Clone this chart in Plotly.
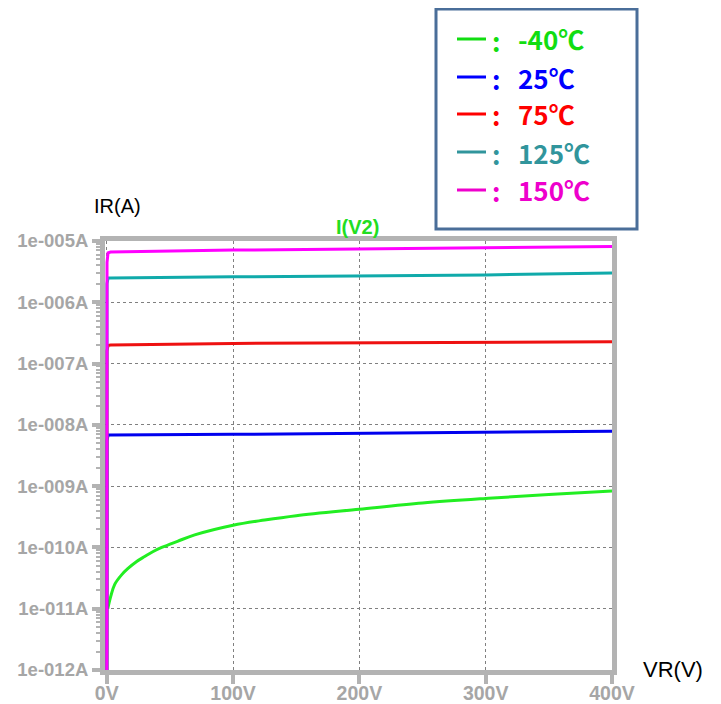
import plotly.graph_objects as go

# ── data ──────────────────────────────────────────────────────────────────────
v_m40 = [0.8, 3.2, 6.3, 11.9, 16.6, 23.7, 30, 36.4, 43.5, 56, 69.6,
         100, 125, 150, 200, 250, 300, 350, 400]
i_m40 = [1.0e-11, 1.6e-11, 2.5e-11, 3.6e-11, 4.5e-11, 5.9e-11, 7.1e-11,
         8.5e-11, 1.0e-10, 1.26e-10, 1.6e-10, 2.3e-10, 2.8e-10,
         3.3e-10, 4.2e-10, 5.3e-10, 6.3e-10, 7.3e-10, 8.3e-10]

v_flat = [0, 0.2, 1, 3, 100, 200, 300, 400]
i_25 = [1e-13, 5.5e-9, 6.8e-9, 6.8e-9, 7.0e-9, 7.3e-9, 7.5e-9, 7.9e-9]
i_75 = [1e-13, 1.6e-7, 1.97e-7, 2.0e-7, 2.13e-7, 2.18e-7, 2.22e-7, 2.26e-7]
i_125 = [1e-13, 2.0e-6, 2.5e-6, 2.5e-6, 2.6e-6, 2.7e-6, 2.8e-6, 3.0e-6]
i_150 = [1e-13, 4.5e-6, 6.4e-6, 6.6e-6, 7.1e-6, 7.4e-6, 7.6e-6, 8.1e-6]

series = [
    ("-40℃", v_m40, i_m40, "#22ee22", "#11dd11", "spline"),
    ("25℃", v_flat, i_25, "#0000ee", "#0000ff", "linear"),
    ("75℃", v_flat, i_75, "#ee1111", "#ff0000", "linear"),
    ("125℃", v_flat, i_125, "#10aaaa", "#31959c", "linear"),
    ("150℃", v_flat, i_150, "#ff00ff", "#ee00cc", "linear"),
]

y_tickvals = [10.0 ** e for e in range(-12, -4)]
y_ticktext = [f"1e-{-e:03d}A" for e in range(-12, -4)]
y_minor = [m * 10.0 ** e for e in range(-12, -5) for m in range(2, 10)]
x_tickvals = [0, 100, 200, 300, 400]
x_ticktext = ["0V", "100V", "200V", "300V", "400V"]

# ── layout geometry (screen pixels; page body adds an 8px offset) ────────────
W, H = 721, 704
OFF = 8
L, R, T, B = 105 - OFF, 612 - OFF, 241 - OFF, 670 - OFF
AXIS_GREY = "#b3b3b3"


def px_x(px):
    return (px - OFF - L) / (R - L)


def px_y(py):
    return (B - (py - OFF)) / (B - T)


def label(text, x, y, size, color, family="Liberation Sans", anchor="center"):
    fig.add_annotation(text=text, x=px_x(x), y=px_y(y), xref="paper", yref="paper",
                       xanchor=anchor, yanchor="middle", showarrow=False,
                       font=dict(family=family, size=size, color=color))


fig = go.Figure()
for name, v, i, col, _, shape in series:
    fig.add_trace(go.Scatter(
        x=v, y=i, mode="lines", name=name,
        line=dict(color=col, width=3, shape=shape),
        showlegend=False,
    ))

axis_common = dict(
    showline=True, linecolor=AXIS_GREY, linewidth=5, mirror=True,
    ticks="outside", tickcolor=AXIS_GREY, tickwidth=4,
    showgrid=True, gridcolor="#808080", gridwidth=1, griddash="3px,3px",
    zeroline=False, layer="below traces", automargin=False,
)

fig.update_xaxes(
    **axis_common,
    range=[-1.4, 400], tickmode="array",
    tickvals=x_tickvals, ticktext=x_ticktext, ticklen=9, ticklabelstandoff=-7,
    tickfont=dict(family="Liberation Sans", size=19.5, color="#a6a6a6", weight="bold"),
)
fig.update_yaxes(
    **axis_common,
    type="log", range=[-12, -5], tickmode="array",
    tickvals=y_tickvals, ticktext=y_ticktext, ticklen=8,
    tickfont=dict(family="Liberation Sans", size=18.5, color="#a6a6a6", weight="bold"),
    minor=dict(ticks="outside", tickmode="array", tickvals=y_minor,
               ticklen=4, tickwidth=2, tickcolor=AXIS_GREY, showgrid=False),
)

# axis titles and trace label
label("IR(A)", 117, 206, 20, "black")
label("VR(V)", 673, 669, 22, "black")
label("<b>I(V2)</b>", 357, 227, 20, "#22dd22")

# temperature key box
fig.add_shape(type="rect", xref="paper", yref="paper",
              x0=px_x(436), x1=px_x(637), y0=px_y(229), y1=px_y(9),
              line=dict(color="#4a6e99", width=3), fillcolor="white", layer="above")
row_y = [39, 77, 114, 152, 190]
for (name, _, _, _, txt_col, _), ry in zip(series, row_y):
    fig.add_shape(type="line", xref="paper", yref="paper",
                  x0=px_x(457), x1=px_x(486), y0=px_y(ry), y1=px_y(ry),
                  line=dict(color=txt_col, width=3))
    label("<b>:</b>", 496, ry + 1, 26, txt_col, family="Noto Sans CJK SC")
    label(f"<b>{name}</b>", 516, ry, 26, txt_col, family="Noto Sans CJK SC", anchor="left")

fig.update_layout(
    width=W, height=H,
    margin=dict(l=L, r=W - R, t=T, b=H - B),
    paper_bgcolor="white", plot_bgcolor="white",
    showlegend=False,
)

fig.write_html("out.html")
